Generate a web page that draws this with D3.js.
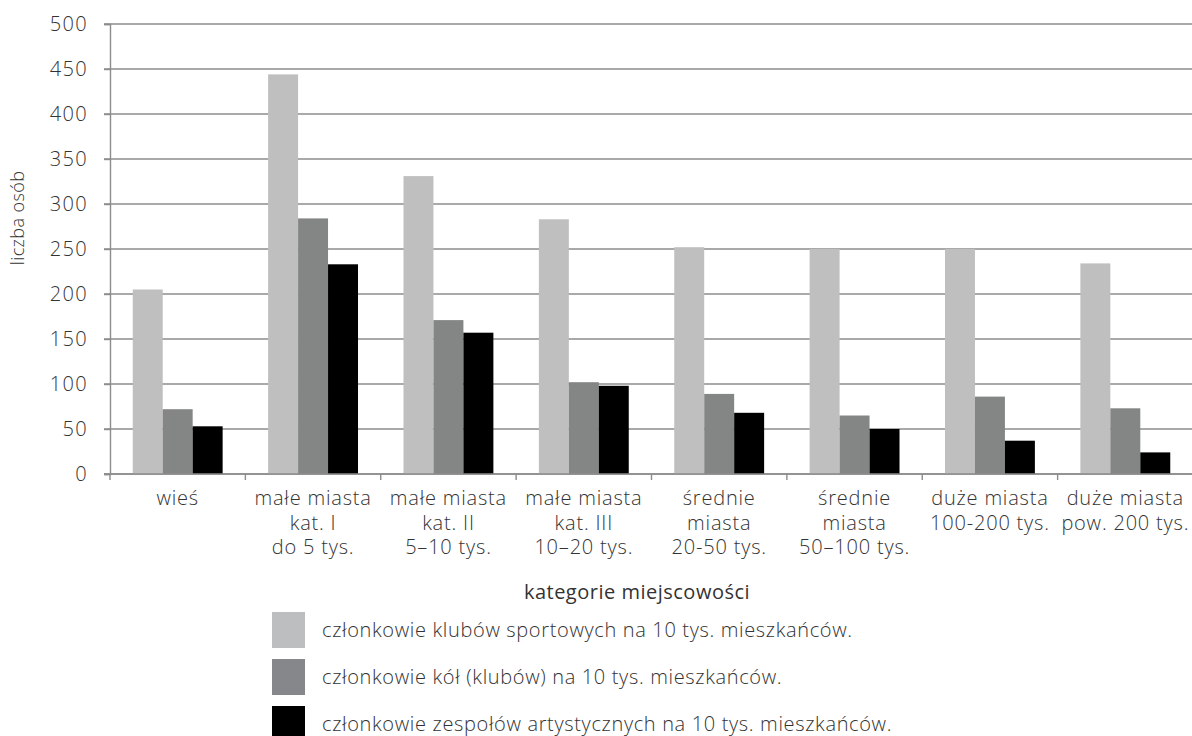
<!DOCTYPE html>
<html><head><meta charset="utf-8">
<script src="https://cdn.jsdelivr.net/npm/d3@7"></script>
<style>
html,body{margin:0;padding:0;background:#fff;}
svg{display:block;}
text{font-family:"Open Sans",sans-serif;font-weight:300;fill:#333;}
</style></head>
<body><svg id="chart" width="1192" height="736"></svg>
<script>
const categories = [
  ["wieś"],
  ["małe miasta","kat. I","do 5 tys."],
  ["małe miasta","kat. II","5–10 tys."],
  ["małe miasta","kat. III","10–20 tys."],
  ["średnie","miasta","20-50 tys."],
  ["średnie","miasta","50–100 tys."],
  ["duże miasta","100-200 tys."],
  ["duże miasta","pow. 200 tys."]
];
const seriesNames = [
  "członkowie klubów sportowych na 10 tys. mieszkańców.",
  "członkowie kół (klubów) na 10 tys. mieszkańców.",
  "członkowie zespołów artystycznych na 10 tys. mieszkańców."
];
const sportClubs = [205, 444, 331, 283, 252, 250, 250, 234];
const circles    = [72, 284, 171, 102, 89, 65, 86, 73];
const artGroups  = [53, 233, 157, 98, 68, 50, 37, 24];
const yTicks = [0, 50, 100, 150, 200, 250, 300, 350, 400, 450, 500];
const yTitle = "liczba osób";
const xTitle = "kategorie miejscowości";
const barColors = ["#bfbfbf", "#848685", "#000000"];
const legendColors = ["#bdbec0", "#85878a", "#000000"];

const svg = d3.select("#chart");
const mLeft = 110, mRight = 1193, mTop = 24, mBottom = 474;
const idx = d3.range(categories.length);
const x0 = d3.scaleBand().domain(idx).range([mLeft, mRight]).padding(0);
const bw = x0.bandwidth();
const x1 = d3.scaleBand().domain([0,1,2]).range([bw*0.168, bw*0.832]).padding(0);
const y = d3.scaleLinear().domain([0, 500]).range([mBottom, mTop]);

// gridlines
svg.append("g").selectAll("line").data(yTicks).join("line")
  .attr("x1", mLeft - 6).attr("x2", 1192)
  .attr("y1", d => y(d)).attr("y2", d => y(d))
  .attr("stroke", "#8c8c8c").attr("stroke-width", 1.4);

// y axis
const yAxis = svg.append("g").attr("transform", `translate(${mLeft},0)`)
  .call(d3.axisLeft(y).tickValues(yTicks).tickSize(6).tickPadding(15));
yAxis.select(".domain").attr("stroke", "#8c8c8c").attr("stroke-width", 1.4);
yAxis.selectAll(".tick line").attr("stroke", "#8c8c8c").attr("stroke-width", 1.4);
yAxis.selectAll(".tick text").style("font-size", "20px").style("font-family", "Open Sans").style("font-weight", 300).attr("fill", "#333").attr("letter-spacing", "1.3px").attr("dx", "-1px");

// bars
const series = [sportClubs, circles, artGroups];
series.forEach((vals, s) => {
  svg.append("g").selectAll("rect").data(vals).join("rect")
    .attr("x", (d, i) => x0(i) + x1(s))
    .attr("width", x1.bandwidth())
    .attr("y", d => y(d))
    .attr("height", d => y(0) - y(d))
    .attr("fill", barColors[s]);
});

// x axis
svg.append("line").attr("x1", mLeft - 6).attr("x2", 1192).attr("y1", mBottom).attr("y2", mBottom)
  .attr("stroke", "#8c8c8c").attr("stroke-width", 1.4);
svg.append("g").selectAll("line").data(idx).join("line")
  .attr("x1", i => x0(i)).attr("x2", i => x0(i))
  .attr("y1", mBottom).attr("y2", mBottom + 6)
  .attr("stroke", "#8c8c8c").attr("stroke-width", 1.4);

const lab = svg.append("g").selectAll("text").data(idx).join("text")
  .attr("x", i => x0(i) + bw/2).attr("y", 505)
  .attr("text-anchor", "middle").style("font-size", "20px").attr("letter-spacing", "0.8px");
lab.each(function(i){
  const t = d3.select(this);
  categories[i].forEach((line, k) => {
    t.append("tspan").attr("x", x0(i) + bw/2).attr("dy", k === 0 ? 0 : 24.5).text(line);
  });
});

// y title
svg.append("text").attr("transform", "translate(24,218) rotate(-90)")
  .attr("text-anchor", "middle").style("font-size", "18px").attr("letter-spacing", "0.4px").text(yTitle);

// x title
svg.append("text").attr("x", 637).attr("y", 599).attr("text-anchor", "middle")
  .style("font-size", "20px").style("font-weight", 400).attr("fill", "#111").attr("letter-spacing", "0.5px").text(xTitle);

// legend
const lg = svg.append("g").selectAll("g").data(seriesNames).join("g")
  .attr("transform", (d, i) => `translate(272,${612 + i*47})`);
lg.append("rect").attr("width", 33).attr("height", 36).attr("fill", (d, i) => legendColors[i]);
lg.append("text").attr("x", 50).attr("y", 25).style("font-size", "20px").attr("letter-spacing", "0.65px").text(d => d);
</script></body></html>
